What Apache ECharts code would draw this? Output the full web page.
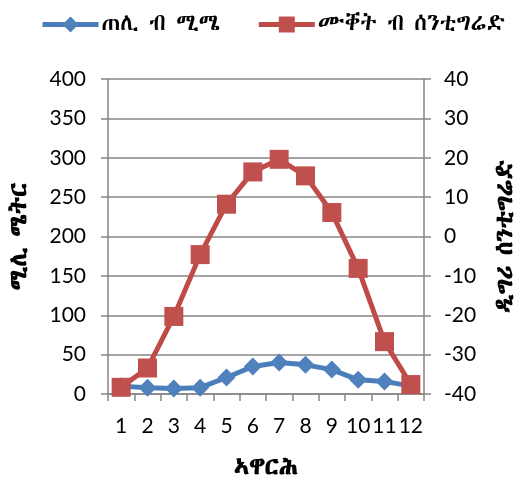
<!DOCTYPE html>
<html><head><meta charset="utf-8">
<script src="https://cdn.jsdelivr.net/npm/echarts@6/dist/echarts.min.js"></script>
<style>html,body{margin:0;padding:0;background:#fff}#c{width:526px;height:485px}</style>
</head><body><div id="c"></div>
<script>
const months = ['1','2','3','4','5','6','7','8','9','10','11','12'];
const precipitation = [10, 8, 7, 8, 21, 35, 40, 37, 31, 18, 16, 10];
const temperature = [-38.3, -33.4, -20.3, -4.6, 8.2, 16.4, 19.6, 15.4, 6.1, -8.1, -26.7, -37.6];
const precipName = 'ጠሊ ብ ሚሜ';
const tempName = 'ሙቐት ብ ሰንቲግሬድ';
const leftTitle = 'ሚሊ ሜትር';
const rightTitle = 'ዲግሪ ሰንቲግሬድ';
const xTitle = 'ኣዋርሕ';

const FONT = 'Lato, "Noto Sans", sans-serif';
const ETH = '"Abyssinica SIL", "Noto Sans Ethiopic", sans-serif';
const GRAY = '#868686';
const chart = echarts.init(document.getElementById('c'), null, {renderer:'canvas'});
chart.setOption({
  animation:false,
  legend:{
    top: 8, left: 35, itemWidth: 56, itemHeight: 20, itemGap: 36,
    lineStyle:{width:5},
    textStyle:{fontSize:23, color:'#000', fontFamily:ETH, padding:[0,0,0,-2]},
    data:[precipName, tempName]
  },
  grid:{left:104, right:91, top:79, bottom:89, containLabel:false},
  xAxis:{
    type:'category', data:months, boundaryGap:true,
    name:xTitle, nameLocation:'middle', nameGap:62,
    nameTextStyle:{fontSize:24, fontWeight:'bold', color:'#000', fontFamily:ETH},
    axisLine:{lineStyle:{color:GRAY, width:1.5}},
    axisTick:{show:true, interval:0, length:7, lineStyle:{color:GRAY, width:1.5}},
    axisLabel:{fontSize:21, color:'#000', margin:22, interval:0, fontFamily:FONT}
  },
  yAxis:[{
    type:'value', min:0, max:400, interval:50, position:'left',
    name:leftTitle, nameLocation:'middle', nameGap:76, nameRotate:90,
    nameTextStyle:{fontSize:24, fontWeight:'bold', color:'#000', fontFamily:ETH},
    axisLine:{show:true, lineStyle:{color:GRAY, width:1.5}},
    axisTick:{show:true, length:7, lineStyle:{color:GRAY, width:1.5}},
    axisLabel:{fontSize:21, color:'#000', margin:22, fontFamily:FONT},
    splitLine:{lineStyle:{color:GRAY, width:1.5}}
  },{
    type:'value', min:-40, max:40, interval:10, position:'right',
    name:rightTitle, nameLocation:'middle', nameGap:70, nameRotate:90,
    nameTextStyle:{fontSize:24, fontWeight:'bold', color:'#000', fontFamily:ETH},
    axisLine:{show:true, lineStyle:{color:GRAY, width:1.5}},
    axisTick:{show:true, length:7, lineStyle:{color:GRAY, width:1.5}},
    axisLabel:{fontSize:21, color:'#000', margin:20, fontFamily:FONT},
    splitLine:{show:false}
  }],
  series:[{
    name:precipName, type:'line', yAxisIndex:0, data:precipitation,
    symbol:'diamond', symbolSize:18,
    lineStyle:{color:'#4A7EBB', width:5}, itemStyle:{color:'#4F81BD'}
  },{
    name:tempName, type:'line', yAxisIndex:1, data:temperature,
    symbol:'rect', symbolSize:19,
    lineStyle:{color:'#BE4B48', width:5}, itemStyle:{color:'#C0504D'}
  }]
});
</script></body></html>
